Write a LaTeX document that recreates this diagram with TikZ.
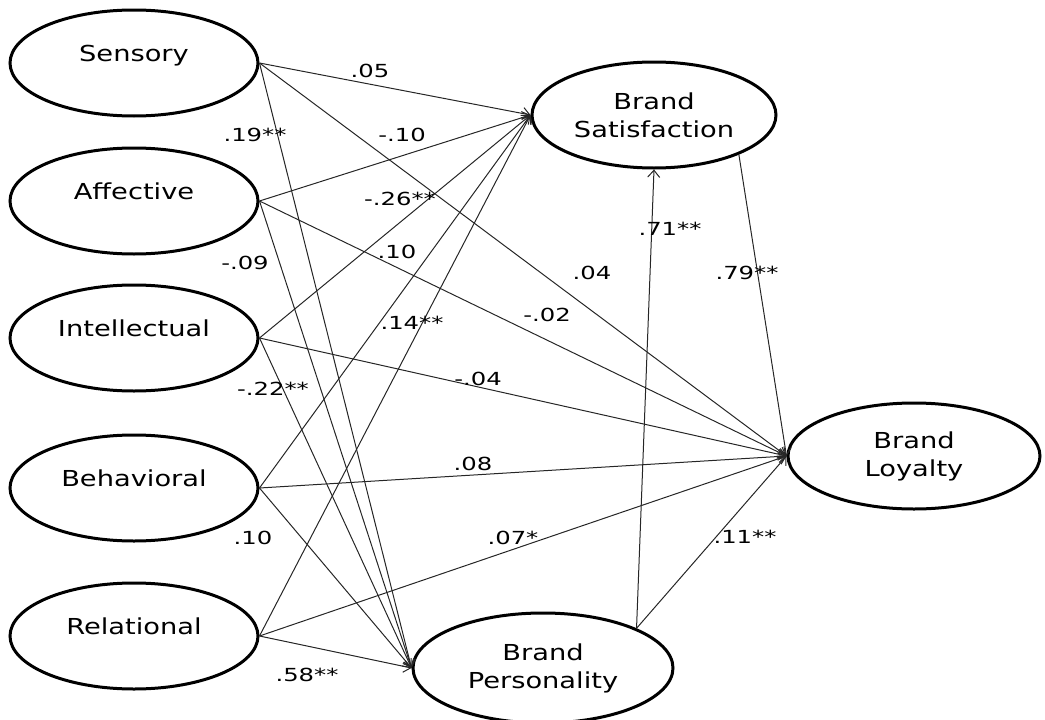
\documentclass[tikz,border=0pt]{standalone}
\usepackage{fontspec}
\newfontfamily\varfont[FakeStretch=1.24]{DejaVu Sans}
\newfontfamily\coeffont[FakeStretch=1.35]{DejaVu Sans}
\usetikzlibrary{shapes.geometric,arrows.meta}

\begin{document}
\begin{tikzpicture}[x=1pt,y=-1pt,
  latent/.style={ellipse, draw, line width=3pt, minimum width=248pt, minimum height=106pt,
    inner sep=0pt, align=center, font=\varfont\fontsize{22}{28}\selectfont},
  exog/.style={latent, text height=16pt, text depth=20pt},
  path/.style={-{Straight Barb[length=7pt,width=12pt]}, line width=1pt, black!85},
  coef/.style={inner sep=0pt, font=\coeffont\fontsize{18}{20}\selectfont}]
\useasboundingbox (0,0) rectangle (1045,720);
% experience dimensions
\node[exog] (sens) at (134,63) {Sensory};
\node[exog] (affe) at (134,201) {Affective};
\node[exog] (inte) at (134,338) {Intellectual};
\node[exog] (beha) at (134,488) {Behavioral};
\node[exog] (rela) at (134,636) {Relational};
% outcomes
\node[latent, minimum width=244pt] (sat) at (654,115) {Brand\\Satisfaction};
\node[latent, minimum width=252pt] (loy) at (914,456) {Brand\\Loyalty};
\node[latent, minimum width=260pt, minimum height=110pt] (pers) at (543,668) {Brand\\Personality};
% paths
\foreach \v in {sens,affe,inte,beha,rela}{
  \draw[path] (\v.east) -- (sat.west);
  \draw[path] (\v.east) -- (loy.west);
  \draw[path] (\v.east) -- (pers.west);
}
\draw[path] (pers.23) -- (sat.south);
\draw[path] (pers.23) -- (loy.west);
\draw[path] (sat.-25) -- (loy.west);
% coefficients
\node[coef] (c1) at (370,71) {.05};
\node[coef] (c2) at (255,135) {.19**};
\node[coef] (c3) at (402,135) {-.10};
\node[coef] (c4) at (400,199) {-.26**};
\node[coef] (c5) at (245,263) {-.09};
\node[coef] (c6) at (397,252) {.10};
\node[coef] (c7) at (412,323) {.14**};
\node[coef] (c8) at (273,389) {-.22**};
\node[coef] (c9) at (478,379) {-.04};
\node[coef] (c10) at (473,464) {.08};
\node[coef] (c11) at (253,538) {.10};
\node[coef] (c12) at (513,538) {.07*};
\node[coef] (c13) at (307,675) {.58**};
\node[coef] (c14) at (670,229) {.71**};
\node[coef] (c15) at (592,273) {.04};
\node[coef] (c16) at (547,315) {-.02};
\node[coef] (c17) at (747,273) {.79**};
\node[coef] (c18) at (745,537) {.11**};
\end{tikzpicture}
\end{document}
